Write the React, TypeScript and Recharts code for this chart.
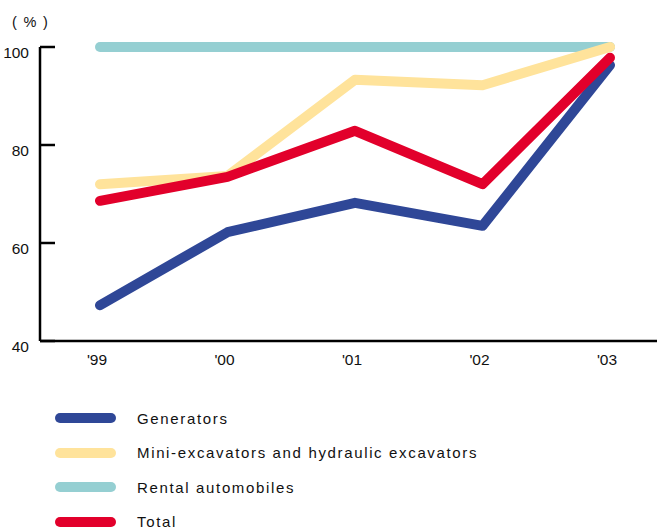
import { LineChart, Line, XAxis, YAxis, Legend } from "recharts";

const years = ["'99", "'00", "'01", "'02", "'03"];
const generators = [47.3, 62.2, 68.2, 63.5, 96.3];
const excavators = [72, 73.7, 93.3, 92.2, 100];
const rental = [100, 100, 100, 100, 100];
const total = [68.6, 73.5, 82.9, 72, 97.8];
const yTicks = [40, 60, 80, 100];

const data = years.map((year, i) => ({
  year,
  generators: generators[i],
  excavators: excavators[i],
  rental: rental[i],
  total: total[i],
}));

const legendItems = [
  { name: "Generators", color: "#2f4797" },
  { name: "Mini-excavators and hydraulic excavators", color: "#ffe39b" },
  { name: "Rental automobiles", color: "#95cfd2" },
  { name: "Total", color: "#e2002b" },
];

const font = "Arial, 'Liberation Sans', sans-serif";

// tickSize is negative so x sits 13px inside the plot; the mark runs back to the axis
function YTick({ x, y, payload }: any) {
  return (
    <g>
      <line x1={x - 13} x2={x + 2} y1={y} y2={y} stroke="#000" strokeWidth={2.5} />
      <text x={x - 24} y={y} dy={10.5} textAnchor="end" fontSize={15.5} fill="#111" fontFamily={font}>
        {payload.value}
      </text>
    </g>
  );
}

function LegendBox() {
  return (
    <div style={{ fontFamily: font }}>
      {legendItems.map((item) => (
        <div key={item.name} style={{ display: "flex", alignItems: "center", height: 34.5 }}>
          <div
            style={{
              width: 61,
              height: 10,
              borderRadius: 5,
              background: item.color,
              marginRight: 21,
            }}
          />
          <span style={{ fontSize: 15, letterSpacing: 1.65, color: "#111" }}>{item.name}</span>
        </div>
      ))}
    </div>
  );
}

export default function App() {
  return (
    <div style={{ position: "absolute", left: 0, top: 0, width: 657, height: 530, background: "#fff" }}>
      <LineChart width={657} height={530} data={data} margin={{ top: 47, right: 0, bottom: 159, left: 0 }}>
        <XAxis
          dataKey="year"
          padding={{ left: 60, right: 47 }}
          axisLine={{ stroke: "#000", strokeWidth: 2.5 }}
          tickLine={false}
          tickSize={6}
          tickMargin={7}
          tick={{ fontSize: 15.5, fill: "#111", fontFamily: font, dx: -3 }}
        />
        <YAxis
          domain={[40, 100]}
          ticks={yTicks}
          width={40}
          axisLine={{ stroke: "#000", strokeWidth: 2.5 }}
          tickLine={false}
          tickSize={-15}
          tickMargin={2}
          tick={<YTick />}
        />
        <text x={12} y={27} fontSize={14.5} fill="#111" fontFamily={font} letterSpacing={1.3}>
          ( % )
        </text>
        <Legend
          layout="vertical"
          align="center"
          verticalAlign="middle"
          wrapperStyle={{ left: 55, top: 401, width: 540 }}
          content={() => <LegendBox />}
        />
        <Line dataKey="rental" stroke="#95cfd2" strokeWidth={10} strokeLinecap="round" strokeLinejoin="round" dot={false} isAnimationActive={false} />
        <Line dataKey="excavators" stroke="#ffe39b" strokeWidth={10} strokeLinecap="round" strokeLinejoin="round" dot={false} isAnimationActive={false} />
        <Line dataKey="generators" stroke="#2f4797" strokeWidth={10} strokeLinecap="round" strokeLinejoin="round" dot={false} isAnimationActive={false} />
        <Line dataKey="total" stroke="#e2002b" strokeWidth={10} strokeLinecap="round" strokeLinejoin="round" dot={false} isAnimationActive={false} />
      </LineChart>
    </div>
  );
}
